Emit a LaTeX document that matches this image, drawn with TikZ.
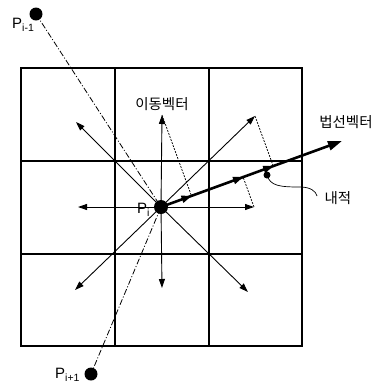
\documentclass[tikz,border=0pt]{standalone}
\usepackage{fontspec}
\setmainfont{Liberation Sans}
\newfontfamily\kr{Noto Sans CJK KR}
\usetikzlibrary{arrows.meta,calc}
\newcommand{\psub}[1]{\raisebox{-0.5ex}{\fontsize{10.5}{10.5}\selectfont #1}}
\begin{document}
\begin{tikzpicture}[x=1pt,y=-1pt,
  gridline/.style={line width=1.3pt},
  move/.style={line width=0.9pt,-{Triangle[length=9pt,width=6pt]}},
  normalv/.style={line width=2.6pt,-{Triangle[length=14pt,width=9pt]}},
  projtip/.style={line width=1pt,-{Triangle[length=10pt,width=7.5pt]}},
  projline/.style={dash pattern=on 2pt off 1.2pt, line width=0.7pt},
  chain/.style={dash pattern=on 6pt off 2pt on 1pt off 2pt, line width=0.8pt},
  pt/.style={circle,fill,inner sep=0pt,minimum size=13pt},
  lbl/.style={inner sep=0pt,font=\fontsize{15}{15}\selectfont},
  krl/.style={inner sep=0pt,font=\kr\fontsize{14.5}{15}\selectfont}]
\useasboundingbox (0,0) rectangle (377,384);
% grid
\draw[gridline] (21,68) rectangle (302,346);
\draw[gridline] (115,68) -- (115,346);
\draw[gridline] (209,68) -- (209,346);
\draw[gridline] (21,161) -- (302,161);
\draw[gridline] (21,254) -- (302,254);
% points
\node[pt] (Pim) at (36,14) {};
\node[pt] (Pip) at (91,374) {};
\node[pt,minimum size=14pt] (Pi) at (161,207) {};
% chain line
\draw[chain] (Pim.center) -- (Pi.center) -- (Pip.center);
% movement vector tips
\coordinate (U) at (162,115);
\coordinate (D) at (162,288);
\coordinate (L) at (78,207);
\coordinate (R) at (254,207);
\coordinate (UL) at (76,122);
\coordinate (DL) at (75,290);
\coordinate (UR) at (255,116);
\coordinate (DR) at (248,292);
\foreach \t in {U,D,L,R,UL,DL,UR,DR}
  \draw[move] (Pi.center) -- (\t);
% normal vector
\coordinate (N) at (342,141);
\coordinate (pU) at ($(Pi.center)!(U)!(N)$);
\coordinate (pR) at ($(Pi.center)!(R)!(N)$);
\coordinate (pUR) at ($(Pi.center)!(UR)!(N)$);
\draw[projline] (U) -- (pU);
\draw[projline] (R) -- (pR);
\draw[projline] (UR) -- (pUR);
\draw[normalv] (Pi.center) -- (N);
\foreach \p in {pU,pR,pUR}
  \draw[projtip] ($(\p)!12pt!(Pi.center)$) -- (\p);
% inner product marker
\node[circle,fill,inner sep=0pt,minimum size=7pt] (dot) at (267,175) {};
\node[krl] (ip) at (338,198) {내적};
\draw[line width=0.7pt] (dot.center) .. controls (270,186) and (280,187) .. (300,187)
  .. controls (310,187) and (316,191) .. (317,196);
% labels
\node[krl] (mv) at (162,104) {이동벡터};
\node[krl] (nv) at (346,122) {법선벡터};
\node[lbl,anchor=base west] (lPim) at (12,28) {P\psub{i-1}};
\node[lbl,anchor=base west] (lPi) at (137,213) {P\psub{i}};
\node[lbl,anchor=base west] (lPip) at (55,378) {P\psub{i+1}};
\end{tikzpicture}
\end{document}
